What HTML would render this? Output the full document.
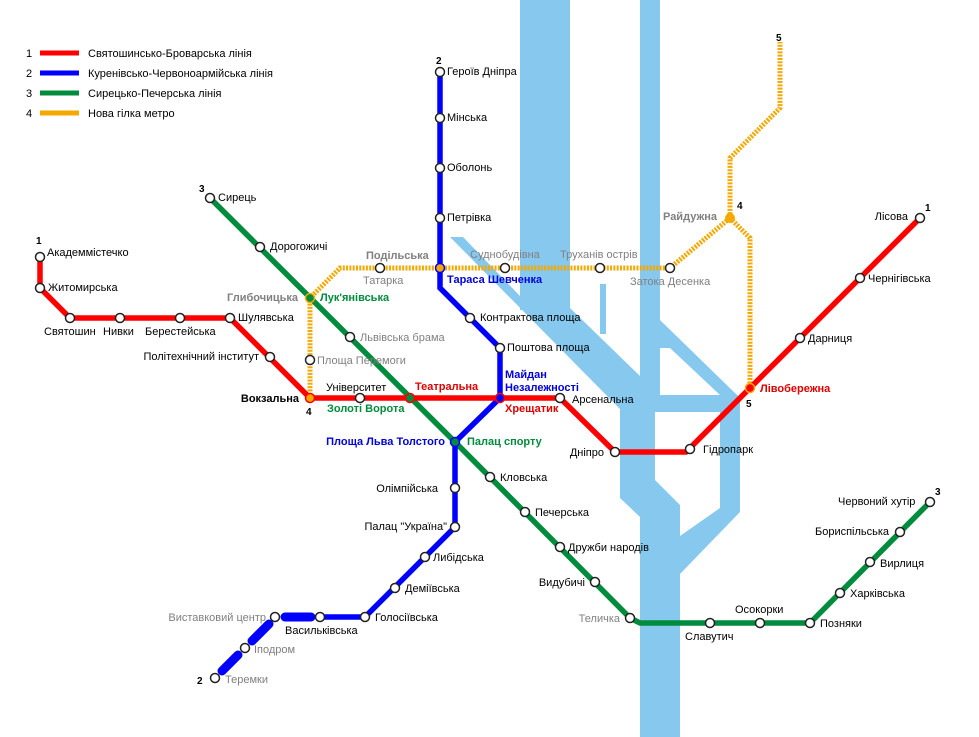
<!DOCTYPE html>
<html><head><meta charset="utf-8"><style>
html,body{margin:0;padding:0;background:#fff}
svg{display:block}
text{font-family:"Liberation Sans",Arial,sans-serif;font-size:11px;fill:#000}
.g{fill:#808080}
.b{font-weight:bold}
.n{font-weight:bold;font-size:10px}
</style></head><body>
<svg width="979" height="737" viewBox="0 0 979 737" xmlns="http://www.w3.org/2000/svg">
<g fill="#87c8ee">
<rect x="520" y="0" width="50" height="310"/>
<rect x="640" y="0" width="20" height="400"/>
<polygon points="450,237 463,237 520,296 570,308 640,376 660,320 737,395 740,397 740,512 680,574 680,737 640,737 640,517 620,498 620,409"/>
<rect x="600" y="284" width="6" height="50"/>
</g>
<g fill="#fff">
<polygon points="660,348 670,348 720,395 660,395"/>
<polygon points="655,412 720,412 720,508 680,536 680,505 655,480"/>
</g>
<g stroke-width="5">
<line x1="40" y1="53" x2="79" y2="53" stroke="#f00"/>
<line x1="40" y1="73" x2="79" y2="73" stroke="#00f"/>
<line x1="40" y1="93" x2="79" y2="93" stroke="#008c3c"/>
<line x1="40" y1="113" x2="79" y2="113" stroke="#f5a800"/>
</g>
<text x="26" y="57">1</text><text x="88" y="57">Святошинсько-Броварська лінія</text>
<text x="26" y="77">2</text><text x="88" y="77">Куренівсько-Червоноармійська лінія</text>
<text x="26" y="97">3</text><text x="88" y="97">Сирецько-Печерська лінія</text>
<text x="26" y="117">4</text><text x="88" y="117">Нова гілка метро</text>
<g fill="none" stroke="#f5a800" stroke-width="5" stroke-dasharray="2,1.3">
<polyline points="310,398 310,298 340,268 670,268 730,218 730,158 780,108 780,42"/>
<polyline points="730,218 750,238 750,388"/>
</g>
<polyline fill="none" stroke="#008c3c" stroke-width="5.5" points="210,198 455,442 630,618 640,623 810,623 930,502"/>
<polyline fill="none" stroke="#00f" stroke-width="5.5" points="440,72 440,288 500,348 500,398 455,442 455,527 365,617 322,617"/>
<g stroke="#00f" stroke-width="9" stroke-linecap="round">
<line x1="285" y1="617" x2="311" y2="617"/>
<line x1="269" y1="624" x2="252" y2="641"/>
<line x1="238" y1="655" x2="222" y2="671"/>
</g>
<polyline fill="none" stroke="#f00" stroke-width="5.5" points="40,257 40,288 70,318 230,318 310,398 560,398 615,452 686,452 920,218"/>
<g fill="#fff" stroke="#222" stroke-width="1.5">
<circle cx="40" cy="257" r="4.5"/><circle cx="40" cy="288" r="4.5"/><circle cx="70" cy="318" r="4.5"/><circle cx="120" cy="318" r="4.5"/><circle cx="180" cy="318" r="4.5"/><circle cx="230" cy="318" r="4.5"/><circle cx="270" cy="357" r="4.5"/><circle cx="360" cy="398" r="4.5"/><circle cx="560" cy="398" r="4.5"/><circle cx="615" cy="452" r="4.5"/><circle cx="690" cy="449" r="4.5"/><circle cx="800" cy="338" r="4.5"/><circle cx="860" cy="278" r="4.5"/><circle cx="920" cy="218" r="4.5"/>
<circle cx="440" cy="72" r="4.5"/><circle cx="440" cy="118" r="4.5"/><circle cx="440" cy="168" r="4.5"/><circle cx="440" cy="218" r="4.5"/><circle cx="470" cy="318" r="4.5"/><circle cx="500" cy="348" r="4.5"/><circle cx="455" cy="488" r="4.5"/><circle cx="455" cy="527" r="4.5"/><circle cx="425" cy="557" r="4.5"/><circle cx="395" cy="588" r="4.5"/><circle cx="365" cy="617" r="4.5"/><circle cx="320" cy="617" r="4.5"/><circle cx="275" cy="617" r="4.5"/><circle cx="245" cy="648" r="4.5"/><circle cx="215" cy="678" r="4.5"/>
<circle cx="210" cy="198" r="4.5"/><circle cx="260" cy="247" r="4.5"/><circle cx="350" cy="337" r="4.5"/><circle cx="490" cy="477" r="4.5"/><circle cx="525" cy="512" r="4.5"/><circle cx="560" cy="547" r="4.5"/><circle cx="595" cy="582" r="4.5"/><circle cx="630" cy="618" r="4.5"/><circle cx="710" cy="623" r="4.5"/><circle cx="760" cy="623" r="4.5"/><circle cx="810" cy="623" r="4.5"/><circle cx="840" cy="593" r="4.5"/><circle cx="870" cy="562" r="4.5"/><circle cx="900" cy="532" r="4.5"/><circle cx="930" cy="502" r="4.5"/>
<circle cx="310" cy="360" r="4.5"/><circle cx="380" cy="268" r="4.5"/><circle cx="505" cy="268" r="4.5"/><circle cx="600" cy="268" r="4.5"/><circle cx="670" cy="268" r="4.5"/>
</g>
<circle cx="310" cy="398" r="4.5" fill="#f5a800" stroke="#f00" stroke-width="1.5"/>
<circle cx="410" cy="398" r="4.5" fill="#008c3c" stroke="#f00" stroke-width="1.5"/>
<circle cx="500" cy="398" r="4.5" fill="#00f" stroke="#f00" stroke-width="1.5"/>
<circle cx="455" cy="442" r="4.5" fill="#008c3c" stroke="#00f" stroke-width="1.5"/>
<circle cx="310" cy="298" r="4.5" fill="#008c3c" stroke="#f5a800" stroke-width="1.5"/>
<circle cx="440" cy="268" r="4.5" fill="#f5a800" stroke="#00f" stroke-width="1.5"/>
<circle cx="750" cy="388" r="4.5" fill="#f00" stroke="#f5a800" stroke-width="1.5"/>
<circle cx="730" cy="218" r="5" fill="#f5a800"/>
<text class="n" x="36" y="244">1</text>
<text x="47" y="256">Академмістечко</text>
<text x="48" y="291">Житомирська</text>
<text x="44" y="335">Святошин</text>
<text x="103" y="335">Нивки</text>
<text x="145" y="335">Берестейська</text>
<text x="238" y="321">Шулявська</text>
<text x="259" y="360" text-anchor="end">Політехнічний інститут</text>
<text class="b" x="299" y="402" text-anchor="end">Вокзальна</text>
<text class="n" x="306" y="415">4</text>
<text x="326" y="391">Університет</text>
<text class="b" x="415" y="390" style="fill:#e00000">Театральна</text>
<text class="b" x="327" y="412" style="fill:#008c3c">Золоті Ворота</text>
<text class="b" x="505" y="378" style="fill:#0000e0">Майдан</text>
<text class="b" x="505" y="391" style="fill:#0000e0">Незалежності</text>
<text class="b" x="505" y="412" style="fill:#e00000">Хрещатик</text>
<text x="572" y="403">Арсенальна</text>
<text x="604" y="456" text-anchor="end">Дніпро</text>
<text x="703" y="453">Гідропарк</text>
<text class="b" x="760" y="392" style="fill:#e00000">Лівобережна</text>
<text class="n" x="746" y="407">5</text>
<text x="808" y="342">Дарниця</text>
<text x="868" y="282">Чернігівська</text>
<text x="908" y="220" text-anchor="end">Лісова</text>
<text class="n" x="925" y="211">1</text>
<text class="n" x="436" y="64">2</text>
<text x="447" y="75">Героїв Дніпра</text>
<text x="447" y="121">Мінська</text>
<text x="447" y="171">Оболонь</text>
<text x="447" y="221">Петрівка</text>
<text class="b" x="447" y="283" style="fill:#0000e0">Тараса Шевченка</text>
<text x="480" y="321">Контрактова площа</text>
<text x="507" y="351">Поштова площа</text>
<text class="b" x="445" y="445" text-anchor="end" style="fill:#0000e0">Площа Льва Толстого</text>
<text class="b" x="467" y="445" style="fill:#008c3c">Палац спорту</text>
<text x="438" y="492" text-anchor="end">Олімпійська</text>
<text x="447" y="530" text-anchor="end">Палац "Україна"</text>
<text x="433" y="561">Либідська</text>
<text x="405" y="592">Деміївська</text>
<text x="375" y="621">Голосіївська</text>
<text x="285" y="634">Васильківська</text>
<text class="g" x="266" y="621" text-anchor="end">Виставковий центр</text>
<text class="g" x="254" y="653">Іподром</text>
<text class="g" x="225" y="683">Теремки</text>
<text class="n" x="197" y="684">2</text>
<text class="n" x="199" y="192">3</text>
<text x="218" y="201">Сирець</text>
<text x="270" y="250">Дорогожичі</text>
<text class="b" x="320" y="301" style="fill:#008c3c">Лук'янівська</text>
<text class="b g" x="298" y="301" text-anchor="end">Глибочицька</text>
<text class="g" x="360" y="341">Львівська брама</text>
<text class="g" x="317" y="364">Площа Перемоги</text>
<text x="500" y="481">Кловська</text>
<text x="535" y="516">Печерська</text>
<text x="568" y="551">Дружби народів</text>
<text x="585" y="586" text-anchor="end">Видубичі</text>
<text class="g" x="620" y="622" text-anchor="end">Теличка</text>
<text x="685" y="640">Славутич</text>
<text x="735" y="613">Осокорки</text>
<text x="820" y="627">Позняки</text>
<text x="850" y="597">Харківська</text>
<text x="880" y="567">Вирлиця</text>
<text x="815" y="535">Бориспільська</text>
<text x="838" y="505">Червоний хутір</text>
<text class="n" x="935" y="495">3</text>
<text class="b g" x="366" y="259">Подільська</text>
<text class="g" x="363" y="284">Татарка</text>
<text class="g" x="470" y="258">Суднобудівна</text>
<text class="g" x="560" y="258">Труханів острів</text>
<text class="g" x="630" y="285">Затока Десенка</text>
<text class="b g" x="663" y="220">Райдужна</text>
<text class="n" x="737" y="209">4</text>
<text class="n" x="776" y="41">5</text>
</svg>
</body></html>
